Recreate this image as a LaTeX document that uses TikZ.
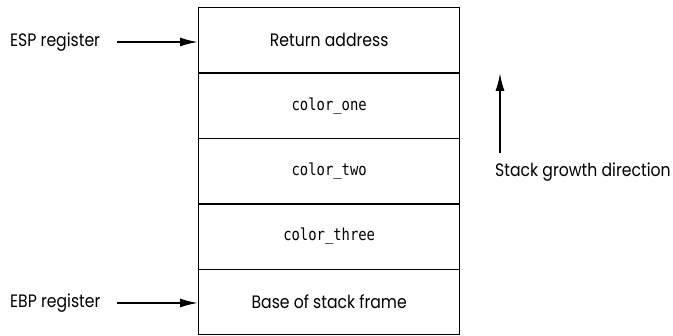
\documentclass[tikz,border=0pt]{standalone}
\usepackage{fontspec}
\setmainfont{Poppins}[FakeStretch=0.87]
\newfontfamily\monof{DejaVu Sans Mono}[FakeStretch=0.84]
\usetikzlibrary{arrows.meta}
\begin{document}
\begin{tikzpicture}[x=1pt,y=-1pt,
  cell/.style={draw=black,line width=1.4pt,minimum width=261pt,minimum height=65.4pt,inner sep=0pt,anchor=north west,font=\fontsize{18}{21}\selectfont},
  monotext/.style={font=\monof\fontsize{16.5}{20}\selectfont},
  lbl/.style={inner sep=0pt,font=\fontsize{18}{21}\selectfont},
  ptr/.style={line width=1.8pt,-{Latex[length=18pt,width=9pt]}}]
\useasboundingbox (0,0) rectangle (673,336);
\node[cell] (ret) at (198,7) {Return address};
\node[cell,monotext] (c1) at (198,72.4) {color\_one};
\node[cell,monotext] (c2) at (198,137.8) {color\_two};
\node[cell,monotext] (c3) at (198,203.2) {color\_three};
\node[cell] (base) at (198,268.6) {Base of stack frame};
\node[lbl,anchor=west] (esp) at (10,42) {ESP register};
\node[lbl,anchor=west] (ebp) at (10,303) {EBP register};
\coordinate (espstart) at (117,42);
\coordinate (ebpstart) at (117,303);
\draw[ptr] (espstart) -- (ret.west |- espstart);
\draw[ptr] (ebpstart) -- (base.west |- ebpstart);
\node[lbl,anchor=west] (grow) at (495,172) {Stack growth direction};
\coordinate (growtop) at (500,73);
\coordinate (growbot) at (500,153);
\draw[ptr] (growbot) -- (growtop);
\end{tikzpicture}
\end{document}
